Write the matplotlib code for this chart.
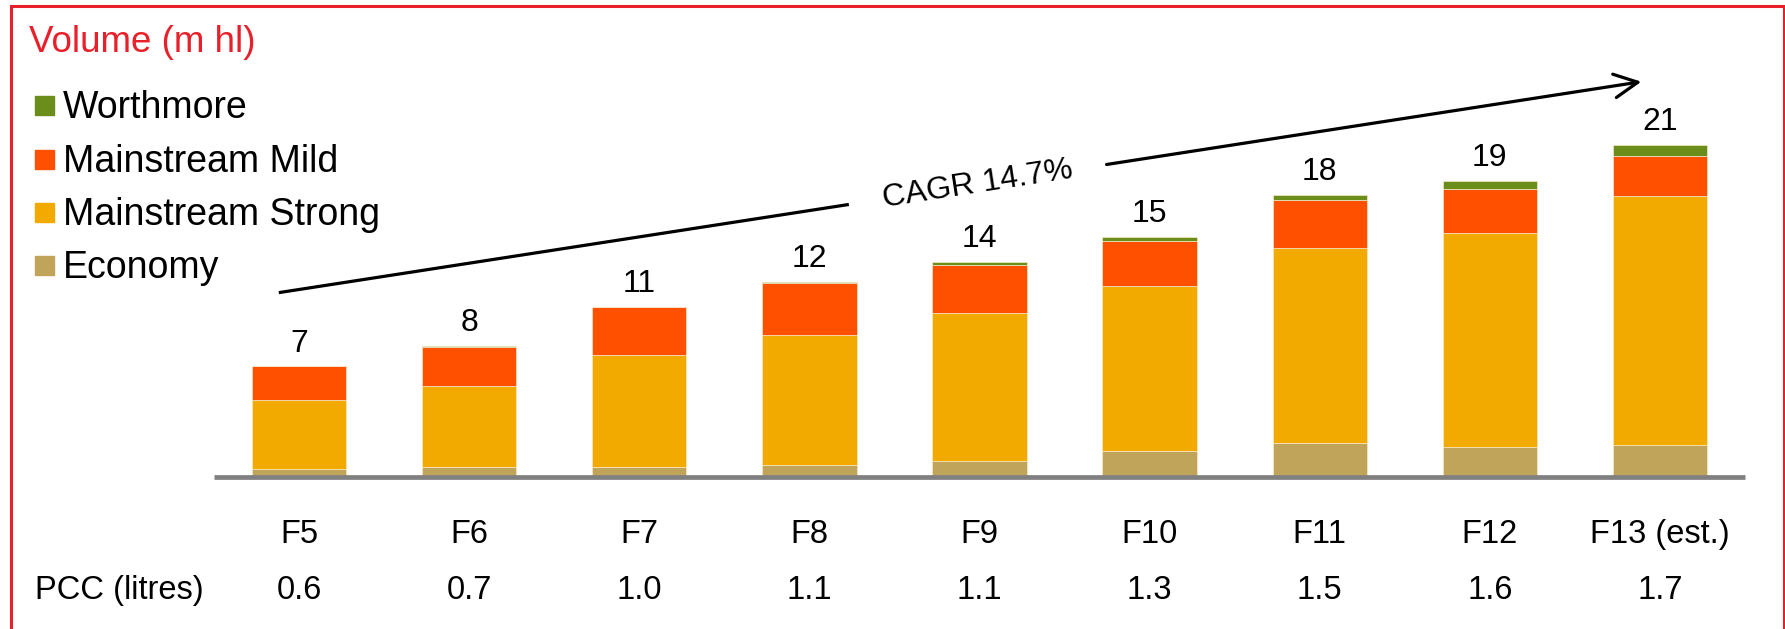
import numpy as np
import matplotlib
matplotlib.use("Agg")
import matplotlib.pyplot as plt
import matplotlib.transforms as mtransforms
from matplotlib.patches import Rectangle

plt.rcParams["font.family"] = ["Liberation Sans", "DejaVu Sans"]

# volume by segment, million hectolitres
years = ["F5", "F6", "F7", "F8", "F9", "F10", "F11", "F12", "F13 (est.)"]
economy = [0.47, 0.59, 0.59, 0.72, 0.99, 1.63, 2.11, 1.86, 1.99]
mainstream_strong = [4.38, 5.17, 7.09, 8.25, 9.39, 10.44, 12.38, 13.56, 15.78]
mainstream_mild = [2.15, 2.45, 3.06, 3.29, 3.04, 2.83, 3.00, 2.81, 2.55]
worthmore = [0.00, 0.08, 0.03, 0.08, 0.19, 0.29, 0.37, 0.50, 0.67]
pcc = ["0.6", "0.7", "1.0", "1.1", "1.1", "1.3", "1.5", "1.6", "1.7"]
cagr_label = "CAGR 14.7%"

series = [
    ("Economy", economy, "#BFA45A"),
    ("Mainstream Strong", mainstream_strong, "#F2AA00"),
    ("Mainstream Mild", mainstream_mild, "#FF5000"),
    ("Worthmore", worthmore, "#6B8E1A"),
]

W, H = 1785, 629
RED = "#E8202A"


def fx(x):
    return x / W


def fy(y):
    return 1 - y / H


fig = plt.figure(figsize=(W / 100, H / 100), dpi=100)
ax = fig.add_axes([fx(214), fy(476.7), 1531 / W, 26 * 15.8 / H])

x = np.arange(len(years))
bottom = np.zeros(len(years))
for name, vals, col in series:
    ax.bar(x, vals, 0.555, bottom=bottom, color=col, edgecolor="#F8E9C8",
           linewidth=0.5, zorder=2)
    bottom += np.array(vals)

# totals above each stack
for xi, tot in zip(x, bottom):
    ax.annotate(f"{tot:.0f}", (xi, tot), xytext=(0, 10.5), textcoords="offset points",
                ha="center", va="baseline", fontsize=23)

ax.axhline(0, color="#808080", lw=3.4, zorder=3, clip_on=False, solid_capstyle="butt")
ax.set_xlim(-0.5, 8.5)
ax.set_ylim(0, 26)
ax.axis("off")

# growth line with a gap for the CAGR label
ax.plot([-0.119, 3.232], [11.65, 17.23], color="black", lw=2.3, solid_capstyle="butt")
ax.annotate("", xy=(7.891, 25.0), xytext=(4.747, 19.76),
            arrowprops=dict(arrowstyle="->,head_length=1.0,head_width=0.5",
                            color="black", lw=2.3, mutation_scale=17,
                            shrinkA=0, shrinkB=0))
ax.text(3.99, 18.49, cagr_label, rotation=8.8, rotation_mode="anchor",
        ha="center", va="center", fontsize=23)

# category row and per-capita consumption row
trans = mtransforms.blended_transform_factory(ax.transData, fig.transFigure)
for xi, yr, p in zip(x, years, pcc):
    ax.text(xi, fy(543.3), yr, transform=trans, ha="center", va="baseline", fontsize=23.5)
    ax.text(xi, fy(599.3), p, transform=trans, ha="center", va="baseline", fontsize=23.5)
fig.text(fx(35), fy(599.3), "PCC (litres)", ha="left", va="baseline", fontsize=23.5)

# title and legend
fig.text(fx(29), fy(51.7), "Volume (m hl)", color=RED, ha="left", va="baseline", fontsize=26.5)
for i, (name, vals, col) in enumerate(reversed(series)):
    base = 118.3 + 53.3 * i
    fig.patches.append(Rectangle((fx(35), fy(base - 3)), 19 / W, 19 / H,
                                 transform=fig.transFigure, color=col))
    fig.text(fx(63), fy(base), name, ha="left", va="baseline", fontsize=27)

# frame
fig.patches.append(Rectangle((fx(10.5), fy(640)), (1783.5 - 10.5) / W, (640 - 6) / H,
                             transform=fig.transFigure, fill=False, edgecolor=RED, lw=2.2))

fig.savefig("out.png", dpi=100)
